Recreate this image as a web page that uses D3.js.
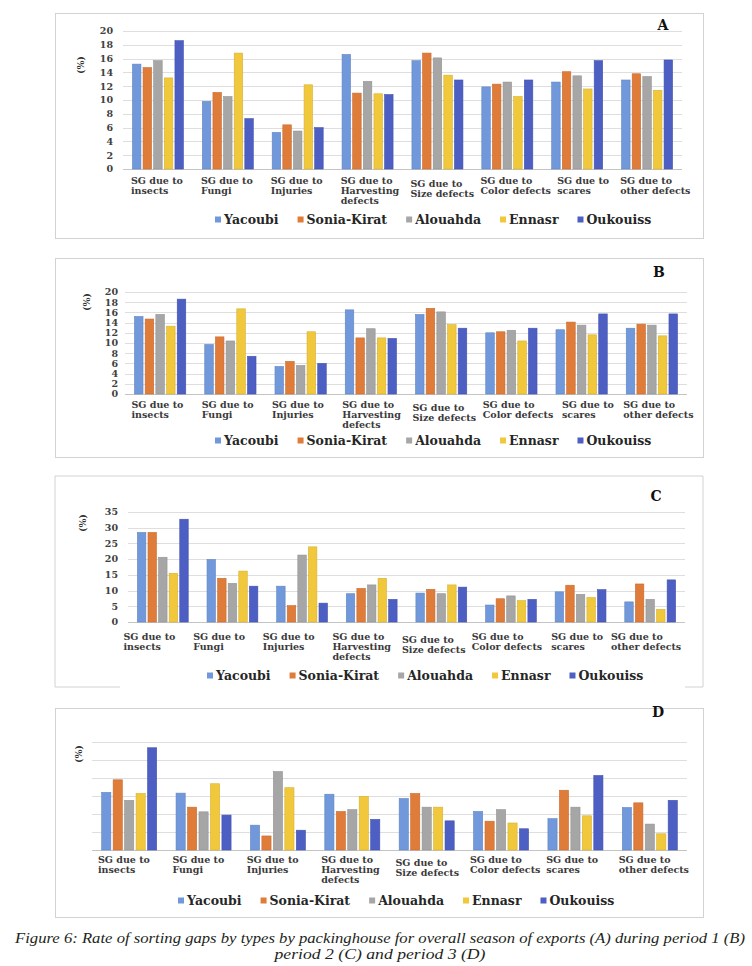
<!DOCTYPE html>
<meta charset="utf-8">
<style>
	body { margin: 0; background: #fff; }
	svg text { font-family: "DejaVu Serif", "Liberation Serif", serif; }
	.tick-label { font-size: 9.5px; font-weight: bold; fill: #404040; }
	.cat-label { font-size: 9.5px; font-weight: bold; fill: #3a3a3a; }
	.legend text { font-size: 12.5px; font-weight: bold; fill: #262626; }
	.panel-letter { font-size: 14px; font-weight: bold; fill: #111; }
	.unit { font-size: 9.5px; font-weight: bold; fill: #333; }
	.caption { font-family: "Liberation Serif", serif; font-size: 15.5px; font-style: italic; fill: #231f20; }
</style>
<body>
<script src="https://d3js.org/d3.v7.min.js"></script>
<script>

	var categories = [
		["SG due to", "insects"],
		["SG due to", "Fungi"],
		["SG due to", "Injuries"],
		["SG due to", "Harvesting", "defects"],
		["SG due to", "Size defects"],
		["SG due to", "Color defects"],
		["SG due to", "scares"],
		["SG due to", "other defects"]
	];

	var series = ["Yacoubi", "Sonia-Kirat", "Alouahda", "Ennasr", "Oukouiss"];
	var colors = ["#7098da", "#e07c3a", "#a6a6a6", "#f1c83b", "#4d5fc3"];

	// one row per category, one value per packinghouse (same order as series)
	var periodA = [
		[15.2, 14.7, 15.7, 13.2, 18.6],
		[9.8, 11.1, 10.5, 16.8, 7.3],
		[5.3, 6.4, 5.5, 12.2, 6.0],
		[16.6, 11.0, 12.7, 10.9, 10.8],
		[15.7, 16.8, 16.1, 13.6, 12.9],
		[11.9, 12.3, 12.6, 10.5, 12.9],
		[12.6, 14.1, 13.5, 11.6, 15.7],
		[12.9, 13.8, 13.4, 11.4, 15.8]
	];
	var periodB = [
		[15.2, 14.7, 15.6, 13.3, 18.6],
		[9.7, 11.2, 10.4, 16.7, 7.4],
		[5.4, 6.4, 5.6, 12.2, 6.0],
		[16.5, 11.0, 12.8, 11.0, 10.9],
		[15.6, 16.8, 16.1, 13.6, 12.9],
		[12.0, 12.2, 12.5, 10.4, 12.9],
		[12.6, 14.1, 13.5, 11.6, 15.7],
		[12.9, 13.7, 13.5, 11.4, 15.7]
	];
	var periodC = [
		[28.5, 28.5, 20.6, 15.5, 32.7],
		[19.9, 13.9, 12.3, 16.2, 11.4],
		[11.4, 5.2, 21.3, 23.9, 6.0],
		[9.0, 10.7, 11.8, 13.9, 7.2],
		[9.2, 10.4, 9.0, 11.8, 11.1],
		[5.4, 7.4, 8.3, 6.8, 7.2],
		[9.6, 11.7, 8.8, 7.8, 10.3],
		[6.4, 12.1, 7.2, 4.0, 13.4]
	];
	var periodD = [
		[16.0, 19.5, 13.8, 15.7, 28.4],
		[15.8, 11.9, 10.6, 18.4, 9.7],
		[6.9, 3.9, 21.8, 17.3, 5.5],
		[15.5, 10.7, 11.2, 14.9, 8.5],
		[14.3, 15.7, 11.9, 11.9, 8.1],
		[10.7, 8.0, 11.2, 7.5, 5.9],
		[8.7, 16.6, 11.9, 9.5, 20.7],
		[11.8, 13.1, 7.2, 4.5, 13.8]
	];

	var ticks20 = [0, 2, 4, 6, 8, 10, 12, 14, 16, 18, 20];
	var ticks35 = [0, 5, 10, 15, 20, 25, 30, 35];
	var ticks30 = [0, 5, 10, 15, 20, 25, 30];

	var captionLines = [
		"Figure 6: Rate of sorting gaps by types by packinghouse for overall season of exports (A) during period 1 (B)",
		"period 2 (C) and period 3 (D)"
	];

	var width = 752,
		height = 966;

	var panels = [
		{ letter: "A", data: periodA, ticks: ticks20, labels: true,
		  box: [55, 13, 648, 225], xr: [123, 682], yr: [169, 31],
		  tickX: 113, unit: [81, 65], catY: 184, lineH: 10, catDx: 8, scaresDx: 7,
		  legendX: 215, legendY: 224, letterPos: [663, 30], pad: 0.27 },
		{ letter: "B", data: periodB, ticks: ticks20, labels: true,
		  box: [55, 258, 648, 199], xr: [125, 687], yr: [394, 292],
		  tickX: 118, unit: [87, 302], catY: 408, lineH: 10, catDx: 6.5, scaresDx: 9,
		  legendX: 215, legendY: 445, letterPos: [659, 277], pad: 0.27 },
		{ letter: "C", data: periodC, ticks: ticks35, labels: true,
		  box: [55, 476, 648, 211], xr: [128, 685], yr: [622, 512],
		  tickX: 118, unit: [83, 523], catY: 640, lineH: 10, catDx: -4.5, scaresDx: 10,
		  legendX: 207, legendY: 680, letterPos: [656, 501], pad: 0.27, brokenBottom: [120, 685] },
		{ letter: "D", data: periodD, ticks: ticks30, labels: false,
		  box: [55, 708, 648, 209], xr: [92, 687], yr: [850, 742],
		  tickX: 84, unit: [79, 754], catY: 863, lineH: 10, catDx: 6, scaresDx: 2,
		  legendX: 178, legendY: 905, letterPos: [658, 717], pad: 0.26 }
	];

	var svg = d3.select("body").append("svg")
		.attr("width", width)
		.attr("height", height);

	panels.forEach(function(p) {
		var g = svg.append("g").attr("class", "panel");
		var b = p.box;

		// frame (panel C has a gap in its bottom edge)
		if (p.brokenBottom) {
			g.append("path")
				.attr("d", "M" + p.brokenBottom[0] + "," + (b[1] + b[3]) +
					"H" + b[0] + "V" + b[1] + "H" + (b[0] + b[2]) + "V" + (b[1] + b[3]) +
					"H" + p.brokenBottom[1])
				.attr("fill", "none")
				.attr("stroke", "#d2d2d2");
		} else {
			g.append("rect")
				.attr("x", b[0] + 0.5).attr("y", b[1] + 0.5)
				.attr("width", b[2]).attr("height", b[3])
				.attr("fill", "none")
				.attr("stroke", "#d2d2d2");
		}

		var y = d3.scaleLinear()
			.domain([0, d3.max(p.ticks)])
			.range(p.yr);

		var x0 = d3.scaleBand()
			.domain(d3.range(categories.length))
			.range(p.xr)
			.paddingInner(p.pad)
			.paddingOuter(p.pad / 2);

		var x1 = d3.scaleBand()
			.domain(d3.range(series.length))
			.range([0, x0.bandwidth()])
			.paddingInner(0.2);

		// gridlines
		g.selectAll(".grid")
			.data(p.ticks)
			.enter().append("line")
			.attr("x1", p.xr[0]).attr("x2", p.xr[1])
			.attr("y1", function(d) { return Math.round(y(d)) + 0.5; })
			.attr("y2", function(d) { return Math.round(y(d)) + 0.5; })
			.attr("stroke", function(d) { return d === 0 ? "#c4c4c4" : "#dedede"; })
			.attr("stroke-width", 1);

		if (p.labels) {
			g.selectAll(".tick-label")
				.data(p.ticks)
				.enter().append("text")
				.attr("class", "tick-label")
				.attr("x", p.tickX)
				.attr("y", function(d) { return y(d); })
				.attr("dy", "0.35em")
				.attr("text-anchor", "end")
				.text(function(d) { return d; });
		}

		// bars
		var groups = g.selectAll(".cat")
			.data(p.data)
			.enter().append("g")
			.attr("transform", function(d, i) { return "translate(" + x0(i) + ",0)"; });

		groups.selectAll("rect")
			.data(function(d) { return d; })
			.enter().append("rect")
			.attr("x", function(d, j) { return x1(j); })
			.attr("y", function(d) { return y(d); })
			.attr("width", x1.bandwidth())
			.attr("height", function(d) { return y(0) - y(d); })
			.attr("fill", function(d, j) { return colors[j]; })
			.attr("stroke", function(d, j) { return d3.color(colors[j]).darker(0.35); })
			.attr("stroke-width", 0.6);

		// category labels
		var step = x0.step();
		var labels = g.selectAll(".cat-label")
			.data(categories)
			.enter().append("text")
			.attr("class", "cat-label")
			.attr("x", function(d, i) {
				return p.xr[0] + i * step + p.catDx + (i === 6 ? p.scaresDx : 0);
			})
			.attr("y", function(d, i) { return p.catY + (i === 4 ? 3 : 0); });

		labels.selectAll("tspan")
			.data(function(d) { return d; })
			.enter().append("tspan")
			.attr("x", function() { return d3.select(this.parentNode).attr("x"); })
			.attr("dy", function(d, k) { return k === 0 ? 0 : p.lineH; })
			.text(function(d) { return d; });

		// y unit
		g.append("text")
			.attr("class", "unit")
			.attr("transform", "translate(" + p.unit[0] + "," + p.unit[1] + ") rotate(-90)")
			.attr("text-anchor", "middle")
			.attr("dy", "0.35em")
			.text("(%)");

		// panel letter
		g.append("text")
			.attr("class", "panel-letter")
			.attr("x", p.letterPos[0])
			.attr("y", p.letterPos[1])
			.attr("text-anchor", "middle")
			.text(p.letter);

		// legend
		var legend = g.append("g").attr("class", "legend");
		var lx = p.legendX;
		series.forEach(function(s, j) {
			legend.append("rect")
				.attr("x", lx)
				.attr("y", p.legendY - 7.5)
				.attr("width", 6)
				.attr("height", 6)
				.attr("fill", colors[j]);
			var t = legend.append("text")
				.attr("x", lx + 9)
				.attr("y", p.legendY)
				.text(s);
			lx += 9 + t.node().getComputedTextLength() + 19;
		});
	});

	// caption
	svg.append("text")
		.attr("class", "caption")
		.attr("x", 380)
		.attr("y", 943)
		.attr("text-anchor", "middle")
		.attr("textLength", 730)
		.attr("lengthAdjust", "spacingAndGlyphs")
		.text(captionLines[0]);

	svg.append("text")
		.attr("class", "caption")
		.attr("x", 380)
		.attr("y", 959)
		.attr("text-anchor", "middle")
		.attr("textLength", 211)
		.attr("lengthAdjust", "spacingAndGlyphs")
		.text(captionLines[1]);
</script>
